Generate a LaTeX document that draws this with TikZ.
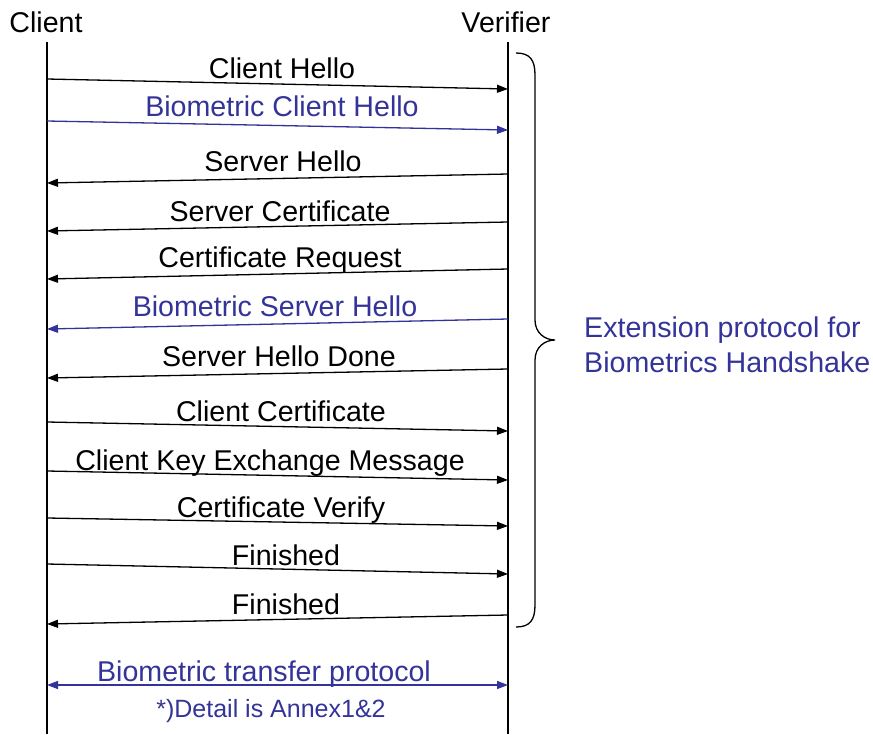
\documentclass[tikz,border=0pt]{standalone}
\usepackage{fontspec}
\setmainfont{Liberation Sans}
\usetikzlibrary{arrows.meta}
\definecolor{bioblue}{RGB}{51,51,153}
\begin{document}
\begin{tikzpicture}[x=1pt,y=-1pt,
  every node/.style={font=\fontsize{28.6}{34}\selectfont, inner sep=0pt},
  lbl/.style={anchor=base},
  small/.style={font=\fontsize{25}{30}\selectfont},
  life/.style={line width=1.5pt},
  msg/.style={line width=1.3pt, -{Triangle[length=11pt,width=8pt]}},
  bimsg/.style={line width=1.3pt, {Triangle[length=11pt,width=8pt]}-{Triangle[length=11pt,width=8pt]}},
  bio/.style={draw=bioblue, text=bioblue},
  brace/.style={line width=1.3pt}]
\useasboundingbox (0,0) rectangle (873,734);

% headers and lifelines
\node[lbl] (client) at (46,32) {Client};
\node[lbl] (verifier) at (506,32) {Verifier};
\coordinate (ctop) at (47,42);
\coordinate (cbot) at (47,734);
\coordinate (vtop) at (508,42);
\coordinate (vbot) at (508,734);
\draw[life] (ctop) -- (cbot);
\draw[life] (vtop) -- (vbot);

% message end points
\coordinate (c1) at (47,79);   \coordinate (v1) at (508,89);
\coordinate (c2) at (47,121);  \coordinate (v2) at (508,130);
\coordinate (v3) at (508,174); \coordinate (c3) at (47,183);
\coordinate (v4) at (508,222); \coordinate (c4) at (47,231);
\coordinate (v5) at (508,269); \coordinate (c5) at (47,279);
\coordinate (v6) at (508,319); \coordinate (c6) at (47,329);
\coordinate (v7) at (508,369); \coordinate (c7) at (47,378);
\coordinate (c8) at (47,422);  \coordinate (v8) at (508,431);
\coordinate (c9) at (47,471);  \coordinate (v9) at (508,480);
\coordinate (c10) at (47,518); \coordinate (v10) at (508,526);
\coordinate (c11) at (47,564); \coordinate (v11) at (508,574);
\coordinate (v12) at (508,615);\coordinate (c12) at (47,624);
\coordinate (c13) at (47,685); \coordinate (v13) at (508,685);

% messages
\draw[msg] (c1) -- (v1);
\node[lbl] (l1) at (282,78) {Client Hello};
\draw[msg,bio] (c2) -- (v2);
\node[lbl,text=bioblue] (l2) at (282,116) {Biometric Client Hello};
\draw[msg] (v3) -- (c3);
\node[lbl] (l3) at (283,171) {Server Hello};
\draw[msg] (v4) -- (c4);
\node[lbl] (l4) at (280,221) {Server Certificate};
\draw[msg] (v5) -- (c5);
\node[lbl] (l5) at (280,267) {Certificate Request};
\draw[msg,bio] (v6) -- (c6);
\node[lbl,text=bioblue] (l6) at (275,316) {Biometric Server Hello};
\draw[msg] (v7) -- (c7);
\node[lbl] (l7) at (279,366) {Server Hello Done};
\draw[msg] (c8) -- (v8);
\node[lbl] (l8) at (281,421) {Client Certificate};
\draw[msg] (c9) -- (v9);
\node[lbl] (l9) at (270,470) {Client Key Exchange Message};
\draw[msg] (c10) -- (v10);
\node[lbl] (l10) at (281,517) {Certificate Verify};
\draw[msg] (c11) -- (v11);
\node[lbl] (l11) at (286,565) {Finished};
\draw[msg] (v12) -- (c12);
\node[lbl] (l12) at (286,614) {Finished};
\draw[bimsg,bio] (c13) -- (v13);
\node[lbl,text=bioblue] (l13) at (264,681) {Biometric transfer protocol};
\node[lbl,small,text=bioblue] (l14) at (271,717) {*)Detail is Annex1\&2};

% brace
\draw[brace] (516,53) .. controls (530,53) and (535,60) .. (535,75)
  -- (535,320) .. controls (535,333) and (545,340) .. (555,340)
  .. controls (545,340) and (535,347) .. (535,360)
  -- (535,605) .. controls (535,620) and (530,627) .. (516,627);
\node[anchor=base west,text=bioblue] (ext1) at (584,337) {Extension protocol for};
\node[anchor=base west,text=bioblue] (ext2) at (584,372) {Biometrics Handshake};
\end{tikzpicture}
\end{document}
